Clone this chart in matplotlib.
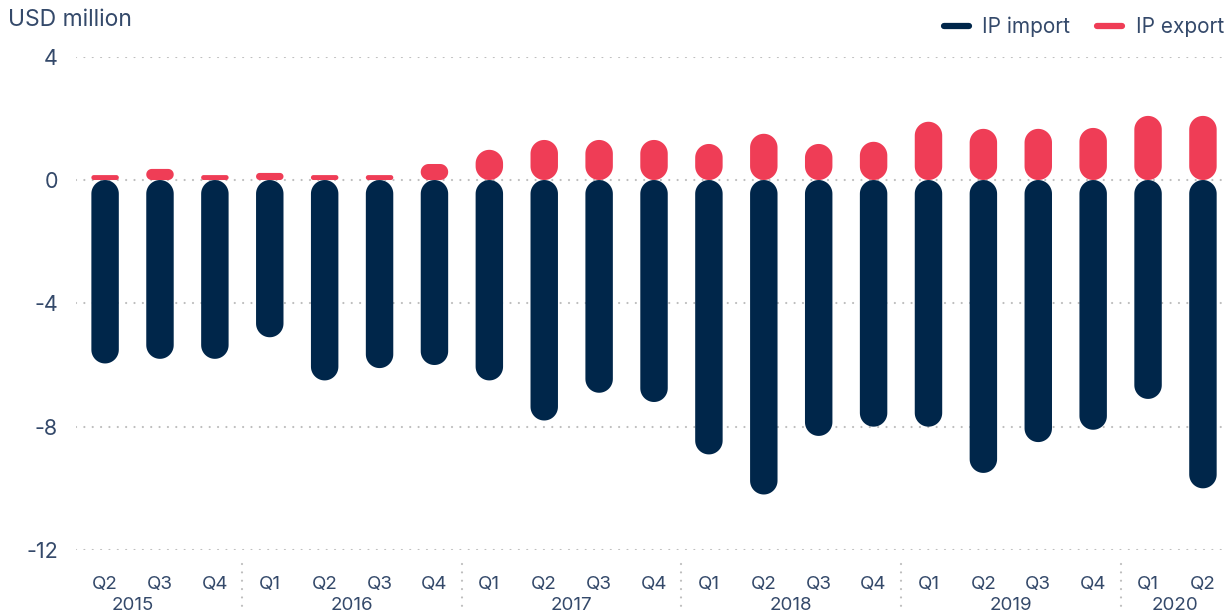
import matplotlib
matplotlib.use("Agg")
import matplotlib.pyplot as plt
from matplotlib.patches import Polygon
from matplotlib.lines import Line2D
import numpy as np

plt.rcParams['font.family'] = ['Inter', 'DejaVu Sans']

quarters = ["Q2", "Q3", "Q4",
            "Q1", "Q2", "Q3", "Q4",
            "Q1", "Q2", "Q3", "Q4",
            "Q1", "Q2", "Q3", "Q4",
            "Q1", "Q2", "Q3", "Q4",
            "Q1", "Q2"]
years = ["2015", "2016", "2017", "2018", "2019", "2020"]
year_pos = [0.5, 4.5, 8.5, 12.5, 16.5, 19.5]
separators = [2.5, 6.5, 10.5, 14.5, 18.5]

ip_import = [-5.95, -5.8, -5.8, -5.1, -6.5, -6.1, -6.0,
             -6.5, -7.8, -6.9, -7.2,
             -8.9, -10.2, -8.3, -8.0,
             -8.0, -9.5, -8.5, -8.1,
             -7.1, -10.0]
ip_export = [0.16, 0.36, 0.16, 0.23, 0.16, 0.16, 0.52,
             0.98, 1.3, 1.3, 1.3,
             1.17, 1.5, 1.17, 1.24,
             1.89, 1.66, 1.66, 1.69,
             2.08, 2.08]

NAVY = "#00264a"
RED = "#ef3d56"
TXT = "#34496a"
GRID = "#bdbdbd"

W, H = 1232, 613
fig = plt.figure(figsize=(W / 100, H / 100), dpi=100)
ax_left, ax_right, ax_top, ax_bot = 76, 1226, 56.7, 550
ax = fig.add_axes([ax_left / W, (H - ax_bot) / H, (ax_right - ax_left) / W, (ax_bot - ax_top) / H])

x = np.arange(len(quarters))
XMIN, XMAX = -0.53, 20.42
ax.set_xlim(XMIN, XMAX)
ax.set_ylim(-12, 4)

for s in ax.spines.values():
    s.set_visible(False)

DOT = dict(lw=1.6, ls=(0, (0.01, 3.75)), dash_capstyle='round')

yticks = [4, 0, -4, -8, -12]
for yv in yticks:
    ax.axhline(yv, color=GRID, zorder=0, **DOT)

ax.set_yticks(yticks)
ax.set_yticklabels([str(v) for v in yticks])
ax.tick_params(axis='y', length=0, pad=13, labelsize=15.5, labelcolor=TXT)
ax.set_xticks(x)
ax.set_xticklabels(quarters)
ax.tick_params(axis='x', length=0, pad=19, labelsize=13.5, labelcolor=TXT)

# pixel scale so the caps are round on screen
px_x = (ax_right - ax_left) / (XMAX - XMIN)
px_y = (ax_bot - ax_top) / 16.0
aspect = px_x / px_y
bw = 0.5


def pill(xc, v, color):
    y0, y1 = min(0, v), max(0, v)
    h = y1 - y0
    ry = min(bw / 2 * aspect, h / 2)
    rx = ry / aspect
    xl, xr = xc - bw / 2, xc + bw / 2
    t = np.linspace(0, np.pi / 2, 16)
    pts = []
    # top-right corner
    cx, cy = xr - rx, y1 - ry
    pts += list(zip(cx + rx * np.cos(t), cy + ry * np.sin(t)))
    # top-left
    cx, cy = xl + rx, y1 - ry
    pts += list(zip(cx + rx * np.cos(t + np.pi / 2), cy + ry * np.sin(t + np.pi / 2)))
    # bottom-left
    cx, cy = xl + rx, y0 + ry
    pts += list(zip(cx + rx * np.cos(t + np.pi), cy + ry * np.sin(t + np.pi)))
    # bottom-right
    cx, cy = xr - rx, y0 + ry
    pts += list(zip(cx + rx * np.cos(t + 1.5 * np.pi), cy + ry * np.sin(t + 1.5 * np.pi)))
    ax.add_patch(Polygon(pts, closed=True, facecolor=color, edgecolor='none', zorder=3))


for xi, v in zip(x, ip_import):
    pill(xi, v, NAVY)
for xi, v in zip(x, ip_export):
    pill(xi, v, RED)

trans = ax.get_xaxis_transform()
ah = ax_bot - ax_top
for yp, lbl in zip(year_pos, years):
    ax.text(yp, -(605 - ax_bot) / ah, lbl, transform=trans, ha='center', va='center',
            fontsize=13.5, color=TXT)
for sp in separators:
    ax.plot([sp, sp], [-(564 - ax_bot) / ah, -(613 - ax_bot) / ah], transform=trans,
            color=GRID, clip_on=False, **DOT)

fig.text(8 / W, 1 - 20 / H, "USD million", ha='left', va='center', fontsize=16.5, color=TXT)

handles = [Line2D([], [], color=NAVY, lw=4.5, solid_capstyle='round'),
           Line2D([], [], color=RED, lw=4.5, solid_capstyle='round')]
fig.legend(handles, ["IP import", "IP export"], loc='center right',
           bbox_to_anchor=(1224 / W, 1 - 27 / H), ncol=2, frameon=False,
           fontsize=15, labelcolor=TXT, handlelength=1.2, handletextpad=0.65,
           columnspacing=1.3, borderpad=0, borderaxespad=0)

fig.savefig("out.png", dpi=100)
